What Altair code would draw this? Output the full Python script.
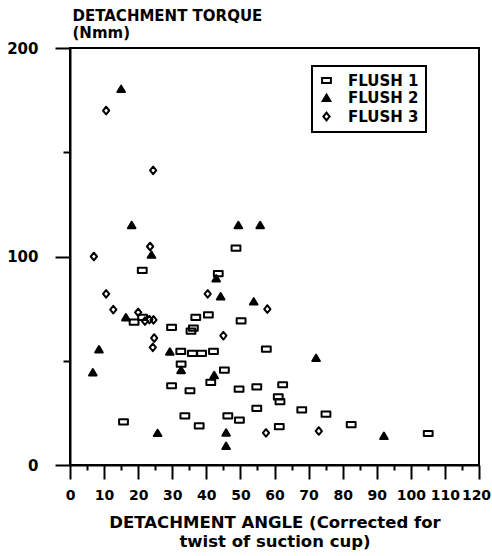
import altair as alt
import pandas as pd

# Detachment angle (deg) and detachment torque (Nmm) for each flush series
flush1_angle = [15.7, 18.8, 21.2, 21.3, 29.8, 29.8, 32.5, 32.6, 33.7, 35.2, 35.5, 36.2,
                35.9, 36.9, 37.9, 38.6, 40.6, 41.3, 42.1, 43.5, 45.3, 46.3, 48.7, 49.6,
                49.7, 50.2, 54.8, 54.8, 57.6, 61.1, 61.6, 61.4, 62.4, 68.0, 75.1, 82.5, 105.1]
flush1_torque = [20.7, 68.5, 93.3, 70.8, 66.0, 38.0, 54.5, 48.4, 23.6, 35.6, 64.2, 65.6,
                 53.5, 70.8, 18.8, 53.5, 72.0, 39.6, 54.5, 91.8, 45.5, 23.6, 104.0, 36.4,
                 21.5, 69.1, 37.5, 27.2, 55.6, 32.7, 30.4, 18.4, 38.5, 26.4, 24.4, 19.4, 15.1]

flush2_angle = [6.7, 8.5, 15.0, 16.4, 18.1, 23.9, 25.7, 29.3, 32.6, 42.3, 42.9, 44.2,
                45.8, 45.8, 49.4, 53.9, 55.8, 72.2, 92.1]
flush2_torque = [44.4, 55.4, 180.3, 70.8, 115.0, 100.8, 15.3, 54.3, 45.5, 43.1, 89.5, 80.8,
                 15.5, 9.1, 115.0, 78.4, 115.0, 51.3, 13.9]

flush3_angle = [7.0, 10.6, 10.6, 12.7, 20.0, 22.0, 23.3, 24.4, 23.5, 24.5, 24.7, 24.3,
                40.4, 45.0, 57.9, 57.5, 73.0]
flush3_torque = [100.0, 170.0, 82.1, 74.5, 73.2, 69.0, 69.7, 141.3, 104.8, 69.6, 60.9, 56.4,
                 82.1, 62.0, 74.8, 15.4, 16.3]

series_names = ["FLUSH 1", "FLUSH 2", "FLUSH 3"]

rows = []
for name, xs, ys in zip(series_names,
                        [flush1_angle, flush2_angle, flush3_angle],
                        [flush1_torque, flush2_torque, flush3_torque]):
    for a, t in zip(xs, ys):
        rows.append({"angle": a, "torque": t, "series": name})
df = pd.DataFrame(rows)

# Marker outlines: flat rounded box, solid triangle, small open diamond
box_path = "M-1.1,-0.65 H1.1 V0.65 H-1.1 Z"
tri_path = "M0,-0.85 L0.95,0.75 L-0.95,0.75 Z"
dia_path = "M0,-0.95 L0.78,0 L0,0.95 L-0.78,0 Z"

FONT = "DejaVu Sans"

x_ticks = list(range(0, 121, 5))
y_ticks = [0, 50, 100, 150, 200]

legend_style = dict(
    title=None,
    orient="none",
    legendX=242,
    legendY=18,
    padding=7,
    strokeColor="black",
    symbolSize=64,
    symbolStrokeColor="black",
    symbolStrokeWidth=2,
    labelFontSize=15,
    labelFont=FONT,
    labelFontWeight="bold",
    labelColor="black",
    labelOffset=14,
    rowPadding=1.5,
)

chart = (
    alt.Chart(df)
    .mark_point(size=64, strokeWidth=2, opacity=1, strokeJoin="round")
    .encode(
        x=alt.X(
            "angle:Q",
            scale=alt.Scale(domain=[0, 120], nice=False, zero=False),
            axis=alt.Axis(
                values=x_ticks,
                labelExpr="datum.value % 10 === 0 ? datum.label : ''",
                tickSize={"condition": {"test": "datum.value % 10 === 0", "value": 14}, "value": 5},
                labelOffset={"condition": {"test": "datum.value === 120", "value": -3}, "value": 0},
                labelPadding=9,
                labelFontSize=14,
                labelFlush=False,
                labelOverlap=False,
                title=["DETACHMENT ANGLE (Corrected for", "twist of suction cup)"],
                titleFontSize=16.5,
                titleLineHeight=19,
                titleAlign="center",
                titleBaseline="alphabetic",
                titleX=204.5,
                titleY=62,
            ),
        ),
        y=alt.Y(
            "torque:Q",
            scale=alt.Scale(domain=[0, 200], nice=False),
            axis=alt.Axis(
                values=y_ticks,
                labelExpr="datum.value % 100 === 0 ? datum.label : ''",
                tickSize={"condition": {"test": "datum.value % 100 === 0", "value": 15}, "value": 7},
                labelPadding=17,
                labelFontSize=15,
                title=["DETACHMENT TORQUE", "(Nmm)"],
                titleAngle=0,
                titleAlign="left",
                titleBaseline="alphabetic",
                titleFontSize=15,
                titleLineHeight=17,
                titleX=2,
                titleY=-28,
            ),
        ),
        shape=alt.Shape(
            "series:N",
            scale=alt.Scale(domain=series_names, range=[box_path, tri_path, dia_path]),
            legend=alt.Legend(**legend_style),
        ),
        fill=alt.Fill(
            "series:N",
            scale=alt.Scale(domain=series_names, range=["transparent", "black", "transparent"]),
            legend=alt.Legend(**legend_style),
        ),
        stroke=alt.Stroke(
            "series:N",
            scale=alt.Scale(domain=series_names, range=["black", "black", "black"]),
            legend=alt.Legend(**legend_style),
        ),
    )
    .properties(
        width=409,
        height=417,
        background="white",
        autosize=alt.AutoSizeParams(type="none"),
        padding={"left": 70, "top": 48, "right": 13, "bottom": 91},
    )
    .configure_view(stroke="black", strokeWidth=2)
    .configure_legend(strokeWidth=2)
    .configure_axis(
        grid=False,
        domainColor="black",
        domainWidth=2,
        tickColor="black",
        tickWidth=2,
        labelColor="black",
        labelFont=FONT,
        labelFontWeight="bold",
        titleColor="black",
        titleFont=FONT,
        titleFontWeight="bold",
    )
)

chart.save("out.html", embed_options={"renderer": "svg", "actions": False})
